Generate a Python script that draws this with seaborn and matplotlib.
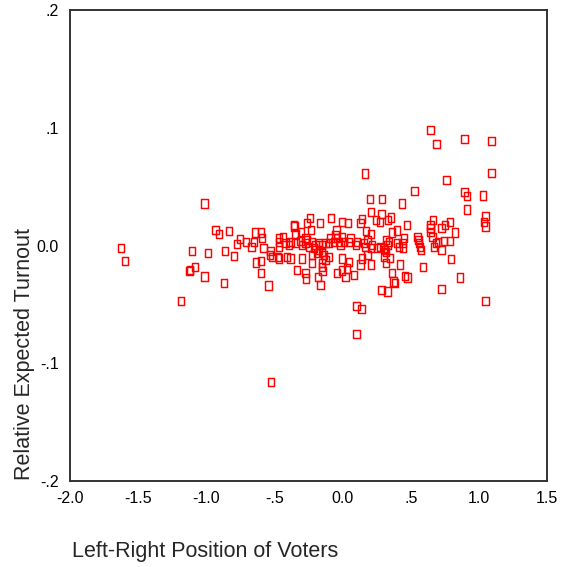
import numpy as np
import pandas as pd
import matplotlib
matplotlib.use("Agg")
import matplotlib.pyplot as plt
from matplotlib.path import Path
import seaborn as sns

# Left-right position of voters (x) and relative expected turnout (y)
lr_far_left = [-1.625, -1.598, -1.184, -1.123, -1.118, -1.103, -1.083, -1.0125, -1.0125, -0.985,
               -0.932, -0.904, -0.870, -0.860, -0.833, -0.796, -0.772, -0.750, -0.708, -0.669,
               -0.649, -0.645, -0.635, -0.601, -0.598, -0.598, -0.590, -0.581, -0.544, -0.535,
               -0.529, -0.527, -0.515]
to_far_left = [-0.0024, -0.0129, -0.0471, -0.0214, -0.0208, -0.0049, -0.0183, 0.0358, -0.0262, -0.0064,
               0.0132, 0.0095, -0.0316, -0.0049, 0.0123, -0.0089, 0.0015, 0.0055, 0.0032, -0.0013,
               0.0032, 0.0109, -0.0143, 0.0109, -0.0129, -0.0236, 0.0066, -0.0024, -0.0341, -0.0081,
               -0.0047, -0.1162, -0.0095]

lr_center_left = [-0.240, -0.167, -0.086, -0.002, 0.039, -0.358, -0.353, -0.260, -0.304, -0.230,
                  -0.044, -0.346, -0.272, -0.468, -0.468, -0.468, -0.439, -0.419, -0.395, -0.382,
                  -0.346, -0.309, -0.296, -0.272, -0.248, -0.260, -0.223, -0.199, -0.211, -0.174,
                  -0.149, -0.125, -0.101, -0.088, -0.064, -0.051, -0.039, -0.027, -0.015, -0.002,
                  0.010, 0.046, 0.059, -0.174, -0.149, -0.186, -0.223, -0.138, -0.101, -0.125,
                  -0.473, -0.468, -0.407, -0.382, -0.296, -0.223, -0.149, -0.149, -0.002, 0.046,
                  0.035, -0.039, 0.022, -0.333, -0.272, -0.267, -0.179, -0.162, 0.083, -0.005,
                  -0.147]
to_center_left = [0.0231, 0.0189, 0.0231, 0.0202, 0.0189, 0.0174, 0.0160, 0.0189, 0.0117, 0.0132,
                  0.0132, 0.0095, 0.0061, 0.0061, 0.0032, -0.0010, 0.0075, 0.0019, 0.0004, 0.0032,
                  0.0019, 0.0038, 0.0004, 0.0019, -0.0010, 0.0047, 0.0032, 0.0004, -0.0024, 0.0019,
                  0.0004, 0.0019, 0.0019, 0.0061, 0.0032, 0.0089, 0.0061, 0.0032, 0.0004, 0.0075,
                  0.0032, 0.0032, 0.0061, -0.0038, -0.0053, -0.0066, -0.0081, -0.0081, -0.0095, -0.0123,
                  -0.0095, -0.0109, -0.0095, -0.0109, -0.0109, -0.0151, -0.0180, -0.0151, -0.0109, -0.0138,
                  -0.0194, -0.0236, -0.0265, -0.0208, -0.0236, -0.0279, -0.0265, -0.0335, -0.0251, -0.0211,
                  -0.0217]

lr_center_right = [0.211, 0.285, 0.140, 0.132, 0.248, 0.274, 0.336, 0.353, 0.471, 0.174,
                   0.206, 0.365, 0.402, 0.108, 0.096, 0.157, 0.169, 0.182, 0.206, 0.218,
                   0.255, 0.279, 0.304, 0.316, 0.340, 0.329, 0.311, 0.321, 0.402, 0.414,
                   0.451, 0.439, 0.446, 0.549, 0.557, 0.561, 0.566, 0.574, 0.182, 0.145,
                   0.304, 0.348, 0.132, 0.211, 0.316, 0.419, 0.590, 0.365, 0.458, 0.476,
                   0.373, 0.382, 0.285, 0.329, 0.103, 0.138, 0.103, 0.167, 0.527, 0.204,
                   0.292, 0.436]
to_center_right = [0.0282, 0.0265, 0.0225, 0.0189, 0.0217, 0.0202, 0.0217, 0.0239, 0.0174, 0.0123,
                   0.0095, 0.0109, 0.0126, 0.0032, 0.0004, 0.0019, -0.0010, 0.0047, -0.0024, 0.0004,
                   -0.0024, -0.0010, -0.0024, 0.0047, 0.0032, 0.0004, -0.0038, -0.0053, 0.0019, -0.0010,
                   0.0061, 0.0019, -0.0024, 0.0075, 0.0047, 0.0019, -0.0010, -0.0038, -0.0081, -0.0109,
                   -0.0095, -0.0104, -0.0160, -0.0160, -0.0151, -0.0160, -0.0180, -0.0236, -0.0259, -0.0273,
                   -0.0307, -0.0321, -0.0380, -0.0392, -0.0514, -0.0539, -0.0752, 0.0611, 0.0465, 0.0397,
                   0.0397, 0.0358]

lr_far_right = [0.645, 0.689, 0.895, 1.093, 1.093, 0.763, 0.895, 0.914, 1.029, 0.914,
                1.049, 1.037, 1.049, 0.662, 0.645, 0.645, 0.645, 0.726, 0.750, 0.787,
                0.824, 0.660, 0.669, 0.684, 0.701, 0.726, 0.745, 0.787, 0.796, 0.860,
                0.726, 1.049]
to_far_right = [0.0981, 0.0862, 0.0902, 0.0887, 0.0613, 0.0556, 0.0454, 0.0423, 0.0426, 0.0307,
                0.0253, 0.0200, 0.0160, 0.0217, 0.0174, 0.0146, 0.0117, 0.0146, 0.0174, 0.0202,
                0.0109, 0.0070, -0.0015, 0.0019, 0.0032, -0.0038, 0.0041, 0.0041, -0.0117, -0.0273,
                -0.0369, -0.0471]

x_ticks = [-2.0, -1.5, -1.0, -0.5, 0.0, 0.5, 1.0, 1.5]
x_tick_labels = ["-2.0", "-1.5", "-1.0", "-.5", "0.0", ".5", "1.0", "1.5"]
y_ticks = [-0.2, -0.1, 0.0, 0.1, 0.2]
y_tick_labels = ["-.2", "-.1", "0.0", ".1", ".2"]

df = pd.DataFrame({
    "lr": lr_far_left + lr_center_left + lr_center_right + lr_far_right,
    "turnout": to_far_left + to_center_left + to_center_right + to_far_right,
})

sns.set_style("white")
plt.rcParams["font.family"] = ["Liberation Sans", "DejaVu Sans"]

fig = plt.figure(figsize=(5.61, 5.67), dpi=100)
ax = fig.add_axes([70 / 561, 1 - 481 / 567, 477 / 561, 471 / 567])

rect = Path([(-0.75, -1.0), (0.75, -1.0), (0.75, 1.0), (-0.75, 1.0), (-0.75, -1.0)],
            [Path.MOVETO, Path.LINETO, Path.LINETO, Path.LINETO, Path.CLOSEPOLY])

sns.scatterplot(data=df, x="lr", y="turnout", ax=ax, marker=rect, s=36,
                facecolors="none", edgecolor="#ff0000", linewidth=1.05)

ax.set_xlim(-2.0, 1.5)
ax.set_ylim(-0.2, 0.2)
ax.set_xticks(x_ticks)
ax.set_xticklabels(x_tick_labels)
ax.set_yticks(y_ticks)
ax.set_yticklabels(y_tick_labels)
ax.tick_params(axis="both", direction="out", length=3, width=1.5, color="#222222",
               labelsize=11.5, labelcolor="black")
ax.tick_params(axis="x", pad=4)
ax.tick_params(axis="y", pad=5)
for sp in ax.spines.values():
    sp.set_visible(True)
    sp.set_color("#333333")
    sp.set_linewidth(1.4)

ax.set_xlabel("Left-Right Position of Voters", fontsize=15.5, va="center", ha="center")
ax.set_ylabel("Relative Expected Turnout", fontsize=15.5, va="center", ha="center")
ax.xaxis.set_label_coords((205.3 - 70) / 477, -(551.7 - 481) / 471)
ax.yaxis.set_label_coords((25 - 70) / 477, (481 - 353.5) / 471)

fig.savefig("out.png", dpi=100)
